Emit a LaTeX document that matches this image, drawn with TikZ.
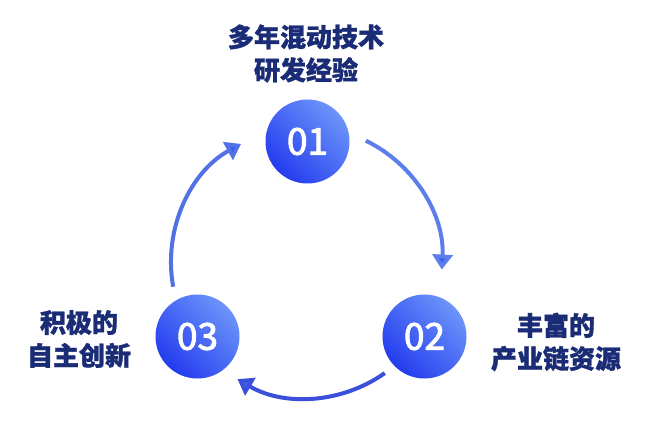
\documentclass[tikz,border=0pt]{standalone}
\usepackage{fontspec}
\newfontfamily\cjk{Noto Sans CJK SC}[BoldFeatures={FakeBold=1.2}]
\newfontfamily\numfont{Noto Sans CJK SC}[FakeBold=2.5]
\usetikzlibrary{arrows.meta,calc}
\definecolor{navy}{RGB}{27,44,118}
\definecolor{ballhi}{RGB}{108,148,250}
\definecolor{balllo}{RGB}{36,60,238}
\definecolor{arcA}{RGB}{92,126,234}
\definecolor{arcB}{RGB}{58,80,218}
\definecolor{arcC}{RGB}{80,114,230}
\definecolor{tipc}{RGB}{62,92,232}
\tikzset{
  ball/.style={circle, minimum size=84pt, inner sep=0pt,
    top color=ballhi, bottom color=balllo, shading angle=-45,
    text=white, font=\numfont\fontsize{37}{37}\selectfont},
  lbl/.style={align=center, text=navy,
    font=\cjk\bfseries\fontsize{26}{33}\selectfont},
  flow/.style={line width=4pt,
    -{Triangle[length=15pt,width=20pt,fill=tipc]}}
}
\begin{document}
\begin{tikzpicture}[x=1pt,y=1pt]
\useasboundingbox (0,0) rectangle (646,421);
\fill[white] (0,0) rectangle (646,421);
\coordinate (c) at (306.5,158.5);
\node[ball] (n1) at (307.5,279.5) {01};
\node[ball] (n2) at (424.5,84.5) {02};
\node[ball] (n3) at (197.5,84.5) {03};
\node[lbl] (t1) at (306,367.5) {多年混动技术\\研发经验};
\node[lbl] (t2) at (556,79) {丰富的\\产业链资源};
\node[lbl] (t3) at (79,82) {积极的\\自主创新};
\coordinate (a1) at ($(c)+(64:135.5pt)$);
\coordinate (a2) at ($(c)+(-54.7:135.5pt)$);
\coordinate (a3) at ($(c)+(190.3:135.5pt)$);
\draw[flow, draw=arcA] (a1) arc[start angle=64, end angle=-3, radius=135.5pt];
\draw[flow, draw=arcB] (a2) arc[start angle=-54.7, end angle=-120.6, radius=135.5pt];
\draw[flow, draw=arcC] (a3) arc[start angle=190.3, end angle=118.9, radius=135.5pt];
\end{tikzpicture}
\end{document}
